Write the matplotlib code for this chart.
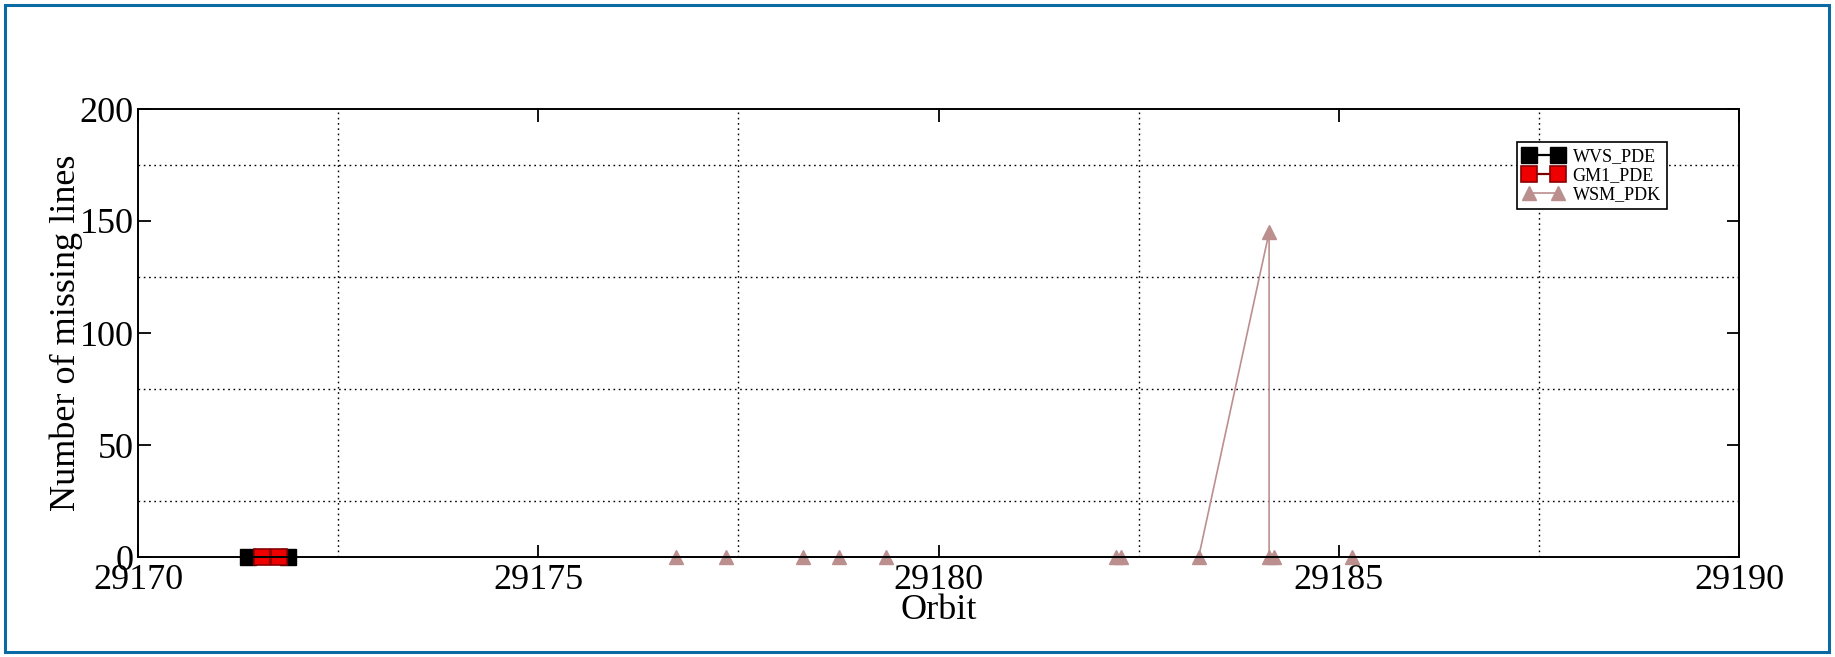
import matplotlib
matplotlib.use('Agg')
import numpy as np
from matplotlib import pyplot as plt
from matplotlib.patches import Rectangle

# data
wvs_orbit = [29171.38, 29171.88]
wvs_missing = [0, 0]

gm1_orbit = [29171.55, 29171.76]
gm1_missing = [0, 0]

wsm_orbit = [29176.72, 29177.35, 29178.31, 29178.76, 29179.34, 29182.22, 29182.28,
             29183.25, 29184.13, 29184.13, 29184.19, 29185.17]
wsm_missing = [0, 0, 0, 0, 0, 0, 0, 0, 145, 0, 0, 0]

x_ticks = [29170, 29175, 29180, 29185, 29190]
y_ticks = [0, 50, 100, 150, 200]
x_grid = [29172.5, 29177.5, 29182.5, 29187.5]
y_grid = [25, 75, 125, 175]

plt.rcParams['font.family'] = ['Liberation Serif', 'DejaVu Serif']

fig = plt.figure(figsize=(18.35, 6.57), dpi=100)
ax = fig.add_axes([138 / 1835, 1 - 557 / 657, (1739 - 138) / 1835, (557 - 109) / 657])

wsm_color = '#bc8f8f'

ax.plot(wvs_orbit, wvs_missing, color='black', marker='s', markersize=12,
        markerfacecolor='black', markeredgecolor='black', lw=1.6,
        label='WVS_PDE', clip_on=False, zorder=3)
ax.plot(gm1_orbit, gm1_missing, color='#7a0000', marker='s', markersize=12,
        markerfacecolor='#ee0000', markeredgecolor='#8a0000', markeredgewidth=1.2, lw=1.6,
        label='GM1_PDE', clip_on=False, zorder=4)
ax.plot(wsm_orbit, wsm_missing, color=wsm_color, marker='^', markersize=10,
        markerfacecolor=wsm_color, markeredgecolor=wsm_color, lw=1.2,
        label='WSM_PDK', clip_on=False, zorder=3)

ax.set_xlim(29170, 29190)
ax.set_ylim(0, 200)
ax.set_xticks(x_ticks)
ax.set_yticks(y_ticks)
ax.set_xticks(x_grid, minor=True)
ax.set_yticks(y_grid, minor=True)
ax.grid(which='minor', color='black', linestyle=(0, (1.2, 2.6)), linewidth=1.0)
ax.grid(which='major', visible=False)

ax.tick_params(which='major', direction='in', length=9, width=1.3,
               top=True, right=True, labelsize=26, pad=3)
ax.tick_params(axis='x', which='major', pad=5)
ax.tick_params(which='minor', length=0)
for s in ax.spines.values():
    s.set_linewidth(1.4)
    s.set_zorder(5)

ax.set_xlabel('Orbit', fontsize=26, labelpad=-2)
ax.set_ylabel('Number of missing lines', fontsize=26, labelpad=-2.5)

leg = ax.legend(loc='upper right', bbox_to_anchor=(0.955, 0.926), borderaxespad=0,
                fontsize=13, numpoints=2, markerscale=0.95, handlelength=2.2,
                fancybox=False, framealpha=1, edgecolor='black', borderpad=0.35,
                labelspacing=0.1, handletextpad=0.5)
leg.get_frame().set_linewidth(1.2)

# blue frame around the whole picture
fig.patches.append(Rectangle((5 / 1835, 5 / 657), 1824 / 1835, 647 / 657,
                             transform=fig.transFigure, fill=False,
                             edgecolor='#0b69a3', linewidth=2.2))

fig.savefig('out.png', dpi=100)
